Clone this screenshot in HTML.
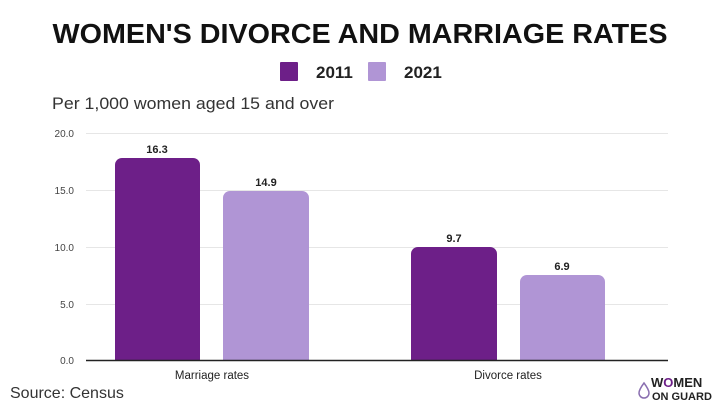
<!DOCTYPE html>
<html><head><meta charset="utf-8"><style>
html,body{margin:0;padding:0;background:#fff;}
svg{display:block;}
text{font-family:"Liberation Sans",sans-serif;}
</style></head><body>
<svg width="720" height="404" viewBox="0 0 720 404">
<rect width="720" height="404" fill="#fff"/>
<text x="360" y="43" text-anchor="middle" font-size="28" font-weight="bold" fill="#111" textLength="615" lengthAdjust="spacingAndGlyphs">WOMEN'S DIVORCE AND MARRIAGE RATES</text>
<rect x="280" y="62" width="18" height="19" rx="1" fill="#6d1f88"/>
<text x="316" y="78" font-size="17" font-weight="bold" fill="#222">2011</text>
<rect x="368" y="62" width="18" height="19" rx="1" fill="#b095d5"/>
<text x="404" y="78" font-size="17" font-weight="bold" fill="#222">2021</text>
<text x="52" y="109" font-size="16.5" fill="#333" textLength="282" lengthAdjust="spacingAndGlyphs">Per 1,000 women aged 15 and over</text>
<g stroke="#e6e6e6" stroke-width="1">
<line x1="86" y1="133.5" x2="668" y2="133.5"/>
<line x1="86" y1="190.5" x2="668" y2="190.5"/>
<line x1="86" y1="247.5" x2="668" y2="247.5"/>
<line x1="86" y1="304.5" x2="668" y2="304.5"/>
</g>
<g font-size="10" fill="#444" text-anchor="end">
<text x="74" y="137">20.0</text>
<text x="74" y="194">15.0</text>
<text x="74" y="251">10.0</text>
<text x="74" y="308">5.0</text>
<text x="74" y="364">0.0</text>
</g>
<path d="M115 360V165a7 7 0 0 1 7-7h71a7 7 0 0 1 7 7V360Z" fill="#6d1f88"/>
<path d="M223 360V198a7 7 0 0 1 7-7h72a7 7 0 0 1 7 7V360Z" fill="#b095d5"/>
<path d="M411 360V254a7 7 0 0 1 7-7h72a7 7 0 0 1 7 7V360Z" fill="#6d1f88"/>
<path d="M520 360V282a7 7 0 0 1 7-7h71a7 7 0 0 1 7 7V360Z" fill="#b095d5"/>
<line x1="86" y1="360.5" x2="668" y2="360.5" stroke="#222" stroke-width="1.5"/>
<g font-size="11" font-weight="bold" fill="#222" text-anchor="middle">
<text x="157" y="153">16.3</text>
<text x="266" y="186">14.9</text>
<text x="454" y="242">9.7</text>
<text x="562" y="270">6.9</text>
</g>
<g font-size="11.5" fill="#222" text-anchor="middle">
<text x="212" y="379">Marriage rates</text>
<text x="508" y="379">Divorce rates</text>
</g>
<text x="10" y="398" font-size="16" fill="#333">Source: Census</text>
<path d="M644 383c-3 4-5 7-5 10a5 5 0 0 0 10 0c0-3-2-6-5-10z" fill="none" stroke="#8a6fb0" stroke-width="1.5"/>
<text x="651" y="387" font-size="13" font-weight="bold" fill="#222">W<tspan fill="#6d1f88">O</tspan>MEN</text>
<text x="652" y="400" font-size="11" font-weight="bold" fill="#222">ON GUARD</text>
</svg>
</body></html>
